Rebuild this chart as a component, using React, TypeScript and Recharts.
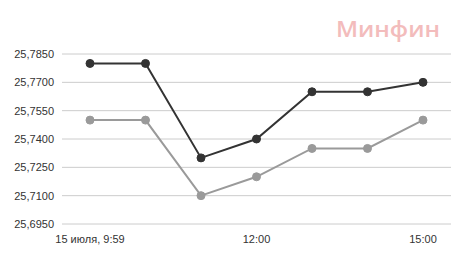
import { LineChart, Line, XAxis, YAxis, CartesianGrid } from 'recharts';

// time points along the x axis (only every third is labelled)
const times = ['15 июля, 9:59', '11:00', '11:30', '12:00', '13:00', '14:00', '15:00'];
// upper (dark) and lower (grey) rate series
const sellRates = [25.78, 25.78, 25.73, 25.74, 25.765, 25.765, 25.77];
const buyRates = [25.75, 25.75, 25.71, 25.72, 25.735, 25.735, 25.75];
const yTicks = [25.695, 25.71, 25.725, 25.74, 25.755, 25.77, 25.785];

const data = times.map((t, i) => ({ time: t, sell: sellRates[i], buy: buyRates[i] }));

const fmt = (v: number) => v.toFixed(4).replace('.', ',');
const tickStyle = { fill: '#333', fontSize: 11, fontFamily: 'Liberation Sans, Arial, sans-serif' };

export default function App() {
    return (
        <div style={{ position: 'relative', width: 451, height: 245 }}>
            <LineChart width={451} height={245} data={data} margin={{ top: 46, right: 8, bottom: 4, left: 0 }}>
                <CartesianGrid vertical={false} stroke="#cccccc" />
                <XAxis
                    dataKey="time"
                    axisLine={false}
                    tickLine={false}
                    interval={2}
                    padding={{ left: 28, right: 28 }}
                    tick={tickStyle}
                    tickMargin={5}
                    height={25}
                />
                <YAxis
                    domain={[25.695, 25.785]}
                    ticks={yTicks}
                    axisLine={false}
                    tickLine={false}
                    tick={tickStyle}
                    tickFormatter={fmt}
                    width={54}
                />
                <Line
                    dataKey="buy"
                    stroke="#9a9a9a"
                    strokeWidth={2}
                    dot={{ r: 4, fill: '#9a9a9a', stroke: '#9a9a9a', strokeWidth: 1 }}
                    isAnimationActive={false}
                />
                <Line
                    dataKey="sell"
                    stroke="#333333"
                    strokeWidth={2}
                    dot={{ r: 4, fill: '#333333', stroke: '#333333', strokeWidth: 1 }}
                    isAnimationActive={false}
                />
            </LineChart>
            <svg width={451} height={245} style={{ position: 'absolute', left: 0, top: 0, pointerEvents: 'none' }}>
                <text
                    x={328}
                    y={28.5}
                    textLength={104}
                    lengthAdjust="spacingAndGlyphs"
                    fill="#f3bcbc"
                    fontSize={21}
                    fontWeight={600}
                    fontFamily="'Open Sans', 'Noto Sans', sans-serif"
                >
                    Минфин
                </text>
            </svg>
        </div>
    );
}
